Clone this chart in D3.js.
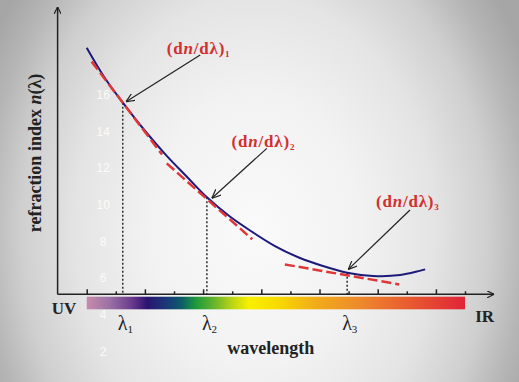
<!DOCTYPE html>
<html>
<head>
<meta charset="utf-8">
<script src="https://cdn.jsdelivr.net/npm/d3@7"></script>
<style>
  html, body { margin: 0; padding: 0; overflow: hidden; }
  svg { display: block; }
</style>
</head>
<body>
<div id="chart"></div>
<script>
// dispersion curve n(lambda), wavelength in tick units (0..13)
var wavelength = [0, 0.59, 1.24, 2.0, 2.75, 3.45, 4.13, 4.92, 5.68, 6.47, 7.33, 8.09, 8.95, 9.84, 10.77, 11.63];
var refIndex = [18.58, 17.01, 15.58, 14.05, 12.68, 11.53, 10.42, 9.37, 8.54, 7.76, 7.11, 6.69, 6.31, 6.13, 6.18, 6.49];

// the three lambdas and their tangent lines
var lambdaX = [1.24, 4.13, 8.95];
var lambdaN = [15.58, 10.42, 6.31];
var tanX1 = [0.17, 2.75, 6.81], tanN1 = [17.82, 12.27, 6.76];
var tanX2 = [2.59, 5.69, 10.74], tanN2 = [12.75, 8.13, 5.67];

// labels + arrows
var labelX = [2.75, 4.98, 9.94], labelN = [18.24, 13.14, 9.89];
var arrowFromX = [3.90, 6.19, 11.11], arrowFromN = [18.18, 13.09, 9.73];
var arrowToX = [1.35, 4.30, 8.99], arrowToN = [15.63, 10.37, 6.49];

var ghostTicks = [2, 4, 6, 8, 10, 12, 14, 16];
var xTicks = d3.range(0, 14);

// spectrum colours (offset along the bar)
var specOffsets = [0, 0.06, 0.12, 0.16, 0.21, 0.25, 0.29, 0.33, 0.39, 0.43, 0.5, 0.6, 0.72, 0.86, 1];
var specColors = ["#c98aac", "#9a72a4", "#6a3a8c", "#2a1470", "#1a3878", "#0b5c68", "#1f9c3a", "#5cb030",
                  "#c4d812", "#f8f000", "#f8dc00", "#f2ae18", "#ee8a2c", "#e85830", "#e02438"];

var W = 519, H = 382;
var svg = d3.select("#chart").append("svg").attr("width", W).attr("height", H);
var defs = svg.append("defs");

var bg = defs.append("radialGradient").attr("id", "bg")
    .attr("gradientUnits", "userSpaceOnUse")
    .attr("cx", 255).attr("cy", 230).attr("r", 300)
    .attr("gradientTransform", "translate(255,230) scale(1,1.3) translate(-255,-230)");
[[0, "#fafafa"], [0.35, "#f2f2f2"], [0.6, "#e4e4e4"], [0.78, "#cfcfcf"], [0.9, "#b6b6b6"], [1, "#a6a6a6"]]
    .forEach(function(s) { bg.append("stop").attr("offset", s[0]).attr("stop-color", s[1]); });

var spec = defs.append("linearGradient").attr("id", "spec");
specOffsets.forEach(function(o, i) {
    spec.append("stop").attr("offset", o).attr("stop-color", specColors[i]);
});

function marker(id, len, half) {
    defs.append("marker").attr("id", id)
        .attr("markerUnits", "userSpaceOnUse")
        .attr("viewBox", "0 0 " + len + " " + (half * 2))
        .attr("markerWidth", len).attr("markerHeight", half * 2)
        .attr("refX", len).attr("refY", half)
        .attr("orient", "auto")
        .append("path")
        .attr("d", "M0,0 L" + len + "," + half + " L0," + (half * 2))
        .attr("fill", "none").attr("stroke", "#222").attr("stroke-width", 1.2);
}
marker("axArrow", 7, 3.5);
marker("annArrow", 9, 4);

svg.append("rect").attr("width", W).attr("height", H).attr("fill", "url(#bg)");

// scales
var x = d3.scaleLinear().domain([0, 13]).range([86.7, 465]);
var y = d3.scaleLinear().domain([2, 16]).range([351.7, 95]);
var axisN = 5.13, topN = 20.8;
var axisY = y(axisN);

// faint numbers left from the original plot
svg.selectAll(".ghost").data(ghostTicks).enter().append("text")
    .attr("x", x(0) + 16.5).attr("y", function(d) { return y(d) + 4; })
    .attr("text-anchor", "middle")
    .style("font-family", "'Liberation Sans', Arial, sans-serif")
    .style("font-size", "12px")
    .attr("fill", "#ffffff").attr("fill-opacity", 0.85)
    .text(function(d) { return d; });

// spectrum bar
svg.append("rect")
    .attr("x", x(0)).attr("y", axisY + 2.4)
    .attr("width", x(13) - x(0)).attr("height", 12.6)
    .attr("fill", "url(#spec)");

// axes
svg.append("line")
    .attr("x1", x(-1)).attr("x2", x(-1)).attr("y1", axisY).attr("y2", y(topN))
    .attr("stroke", "#222").attr("stroke-width", 1.5).attr("marker-end", "url(#axArrow)");
svg.append("line")
    .attr("x1", x(-1)).attr("x2", x(14)).attr("y1", axisY).attr("y2", axisY)
    .attr("stroke", "#222").attr("stroke-width", 1.5).attr("marker-end", "url(#axArrow)");

var xAxis = svg.append("g").attr("transform", "translate(0," + axisY + ")")
    .call(d3.axisBottom(x).tickValues(xTicks).tickFormat("").tickSizeOuter(0));
xAxis.select(".domain").remove();
xAxis.selectAll(".tick line")
    .attr("y2", function(d) { return d % 2 === 0 ? -5 : -3; })
    .attr("stroke", "#222").attr("stroke-width", 1.5);

// dotted drop lines
svg.selectAll(".drop").data(lambdaX).enter().append("line")
    .attr("x1", function(d) { return x(d); }).attr("x2", function(d) { return x(d); })
    .attr("y1", function(d, i) { return y(lambdaN[i]); }).attr("y2", axisY)
    .attr("stroke", "#222").attr("stroke-width", 1.4).attr("stroke-dasharray", "2,2");

// curve
var line = d3.line()
    .x(function(d) { return x(d[0]); })
    .y(function(d) { return y(d[1]); })
    .curve(d3.curveCatmullRom.alpha(0.5));
svg.append("path")
    .datum(d3.zip(wavelength, refIndex))
    .attr("d", line)
    .attr("fill", "none").attr("stroke", "#1c1a7a").attr("stroke-width", 2);

// tangents
svg.selectAll(".tan").data(tanX1).enter().append("line")
    .attr("x1", function(d) { return x(d); })
    .attr("y1", function(d, i) { return y(tanN1[i]); })
    .attr("x2", function(d, i) { return x(tanX2[i]); })
    .attr("y2", function(d, i) { return y(tanN2[i]); })
    .attr("stroke", "#e03636").attr("stroke-width", 2.5).attr("stroke-dasharray", "10,4");

// annotation arrows
svg.selectAll(".ann").data(arrowFromX).enter().append("line")
    .attr("x1", function(d) { return x(d); })
    .attr("y1", function(d, i) { return y(arrowFromN[i]); })
    .attr("x2", function(d, i) { return x(arrowToX[i]); })
    .attr("y2", function(d, i) { return y(arrowToN[i]); })
    .attr("stroke", "#222").attr("stroke-width", 1.2).attr("marker-end", "url(#annArrow)");

var serif = "'Liberation Serif', 'Times New Roman', serif";

// (dn/dλ)i labels
var lab = svg.selectAll(".lab").data(labelX).enter().append("text")
    .attr("x", function(d) { return x(d); })
    .attr("y", function(d, i) { return y(labelN[i]); })
    .style("font-family", serif).style("font-size", "17px").style("font-weight", "bold")
    .style("letter-spacing", "0.8px")
    .attr("fill", "#d42e2e");
lab.append("tspan").text("(d");
lab.append("tspan").style("font-style", "italic").text("n");
lab.append("tspan").text("/dλ)");
lab.append("tspan").attr("dy", 3).style("font-size", "9px").text(function(d, i) { return i + 1; });

// λi labels under the bar
var lam = svg.selectAll(".lam").data(lambdaX).enter().append("text")
    .attr("x", function(d) { return x(d) - 5; })
    .attr("y", axisY + 36)
    .style("font-family", serif).style("font-size", "20px")
    .attr("fill", "#222");
lam.append("tspan").text("λ");
lam.append("tspan").attr("dy", 3).style("font-size", "11px").text(function(d, i) { return i + 1; });

svg.append("text").attr("x", x(-1.2)).attr("y", axisY + 20)
    .style("font-family", serif).style("font-size", "17px").style("font-weight", "bold")
    .attr("fill", "#222").text("UV");
svg.append("text").attr("x", x(14)).attr("y", axisY + 27.5).attr("text-anchor", "end")
    .style("font-family", serif).style("font-size", "17px").style("font-weight", "bold")
    .attr("fill", "#222").text("IR");

svg.append("text").attr("x", (x(0) + x(13)) / 2 - 5).attr("y", axisY + 60).attr("text-anchor", "middle")
    .style("font-family", serif).style("font-size", "18px").style("font-weight", "bold")
    .attr("fill", "#222").text("wavelength");

var yl = svg.append("text")
    .attr("transform", "translate(41," + 153 + ") rotate(-90)")
    .attr("text-anchor", "middle")
    .style("font-family", serif).style("font-size", "18px").style("font-weight", "bold")
    .attr("fill", "#222");
yl.append("tspan").text("refraction index ");
yl.append("tspan").style("font-style", "italic").text("n");
yl.append("tspan").text("(λ)");
</script>
</body>
</html>
